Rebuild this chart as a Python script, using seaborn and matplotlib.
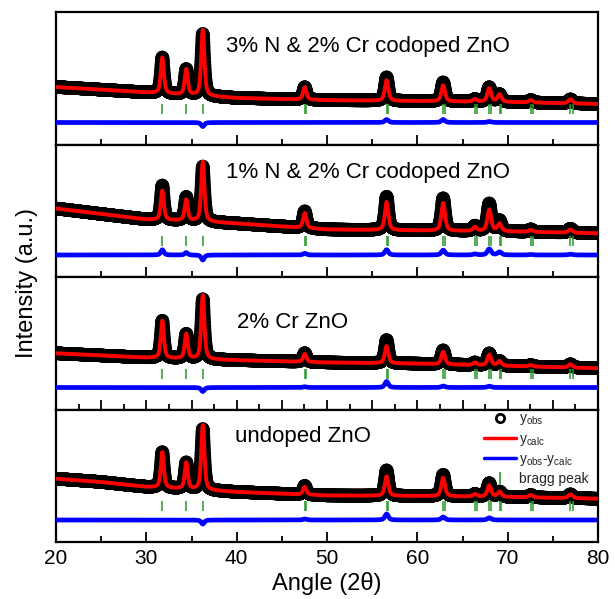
import numpy as np
import pandas as pd
import matplotlib
matplotlib.use("Agg")
import matplotlib.pyplot as plt
import seaborn as sns
from matplotlib.lines import Line2D
from matplotlib.ticker import MultipleLocator

sns.set_theme(style="white")
plt.rcParams['font.family'] = ['Liberation Sans', 'DejaVu Sans']
plt.rcParams['mathtext.fontset'] = 'custom'
plt.rcParams['mathtext.rm'] = 'Liberation Sans'
plt.rcParams['mathtext.it'] = 'Liberation Sans:italic'

# ---------------- data ----------------
panel_labels = ["3% N & 2% Cr codoped ZnO", "1% N & 2% Cr codoped ZnO",
                "2% Cr ZnO", "undoped ZnO"]
peak_pos = [31.77, 34.42, 36.25, 47.54, 56.60, 62.86, 66.38, 67.96, 69.10, 72.56, 76.95]
peak_fwhm = [0.40, 0.40, 0.41, 0.44, 0.46, 0.48, 0.50, 0.50, 0.51, 0.53, 0.56]
ka2_pos = [47.66, 56.75, 63.03, 66.56, 68.14, 69.29, 72.77, 77.18]

bg_angles = [20, 25, 30, 35, 40, 50, 60, 70, 80]
bg_n3cr2 = [57.5, 54.8, 52.0, 49.2, 46.5, 44.3, 43.4, 42.4, 40.5]
bg_n1cr2 = [68.5, 63.0, 57.5, 56.0, 53.5, 47.5, 46.5, 45.5, 43.7]
bg_cr2 = [56.2, 54.0, 51.8, 50.5, 49.3, 47.0, 45.8, 43.5, 41.2]
bg_undoped = [63.3, 60.0, 55.0, 52.5, 50.0, 46.5, 46.0, 45.0, 43.3]

calc_n3cr2 = [36.0, 25.5, 66.0, 12.5, 20.5, 16.0, 2.5, 13.5, 7.5, 2.5, 4.0]
calc_n1cr2 = [29.3, 21.0, 60.0, 15.0, 28.2, 27.7, 4.0, 21.5, 7.5, 2.0, 3.2]
calc_cr2 = [37.4, 24.6, 64.0, 8.0, 17.3, 12.5, 2.5, 10.7, 4.6, 1.5, 3.3]
calc_undoped = [35.7, 26.4, 65.0, 7.8, 19.5, 18.5, 2.5, 11.3, 5.0, 2.4, 3.8]

obs_n3cr2 = [36.0, 25.5, 62.0, 12.5, 23.5, 19.0, 2.5, 14.5, 7.5, 2.5, 4.0]
obs_n1cr2 = [34.5, 23.5, 55.0, 16.7, 33.5, 32.5, 5.0, 27.5, 10.5, 2.5, 4.0]
obs_cr2 = [37.4, 24.6, 60.0, 8.8, 23.3, 14.0, 2.5, 12.0, 4.6, 1.5, 3.3]
obs_undoped = [35.7, 26.4, 61.0, 8.8, 25.5, 21.5, 2.5, 13.5, 5.0, 2.4, 3.8]

backgrounds = [bg_n3cr2, bg_n1cr2, bg_cr2, bg_undoped]
calcs = [calc_n3cr2, calc_n1cr2, calc_cr2, calc_undoped]
obss = [obs_n3cr2, obs_n1cr2, obs_cr2, obs_undoped]

# ---------------- profile model ----------------
two_theta = np.arange(20.0, 80.0001, 0.02)
ETA = 0.6


def pattern(bg, heights):
    y = np.interp(two_theta, bg_angles, bg)
    for x0, w, h in zip(peak_pos, peak_fwhm, heights):
        d2 = 4.0 * (two_theta - x0) ** 2 / w ** 2
        y = y + h * ((1 - ETA) * np.exp(-np.log(2) * d2) + ETA / (1 + d2))
    return y


DIFF_OFFSET = 22.0
RED = "#ff0000"
BLUE = "#0000ff"
GREEN = "#2a9a2a"

fig = plt.figure(figsize=(6.15, 5.99), dpi=100)
gs = fig.add_gridspec(4, 1, left=56 / 615, right=598 / 615,
                      top=1 - 12 / 599, bottom=1 - 542 / 599, hspace=0)
axes = [fig.add_subplot(gs[i]) for i in range(4)]

text_pos = [(38.8, 92.8), (38.8, 98.7), (40.0, 81.8), (39.8, 100.0)]

for i, ax in enumerate(axes):
    yc = pattern(backgrounds[i], calcs[i])
    yo = pattern(backgrounds[i], obss[i])
    df = pd.DataFrame({"angle": two_theta, "obs": yo, "calc": yc,
                       "diff": yo - yc + DIFF_OFFSET})
    sns.scatterplot(data=df, x="angle", y="obs", ax=ax, marker="o", s=66,
                    color="black", linewidth=1.5, zorder=2, legend=False)
    coll = ax.collections[-1]
    coll.set_facecolor("none")
    coll.set_edgecolor("black")
    sns.lineplot(data=df, x="angle", y="calc", ax=ax, color=RED, lw=2.8,
                 zorder=3, estimator=None, sort=False)
    sns.lineplot(data=df, x="angle", y="diff", ax=ax, color=BLUE, lw=3.4,
                 zorder=3, estimator=None, sort=False)
    ax.vlines(peak_pos, 31, 41, color=GREEN, lw=1.1, zorder=4)
    ax.vlines(ka2_pos, 31, 41, color=GREEN, lw=1.1, zorder=4)

    ax.set_xlim(20, 80)
    ax.set_ylim(0, 132.5)
    ax.set_yticks([])
    ax.set_ylabel("")
    ax.set_xlabel("")
    if i == 2:
        ax.xaxis.set_major_locator(MultipleLocator(5))
        ax.xaxis.set_minor_locator(MultipleLocator(2.5))
    else:
        ax.xaxis.set_major_locator(MultipleLocator(10))
        ax.xaxis.set_minor_locator(MultipleLocator(5))
    ax.tick_params(axis="x", which="major", direction="in", length=7,
                   width=1.3, color="black", bottom=True, top=False,
                   labelsize=15, pad=5, labelcolor="black")
    ax.tick_params(axis="x", which="minor", direction="in", length=4,
                   width=1.3, color="black", bottom=True, top=False)
    for sp in ax.spines.values():
        sp.set_color("black")
        sp.set_linewidth(1.6)
    if i < 3:
        ax.tick_params(axis="x", labelbottom=False)
    tx, ty = text_pos[i]
    ax.text(tx, ty, panel_labels[i], fontsize=16, color="black",
            ha="left", va="baseline", zorder=5)

axes[3].set_xlabel("Angle (2θ)", fontsize=17, color="black", labelpad=3)
fig.text(27 / 615, 1 - 283 / 599, "Intensity (a.u.)", rotation=90,
         fontsize=17, ha="center", va="center", color="black")

handles = [
    Line2D([], [], ls="none", marker="o", ms=6, mfc="none", mec="black", mew=2),
    Line2D([], [], color=RED, lw=2.5),
    Line2D([], [], color=BLUE, lw=2.5),
    Line2D([], [], ls="none", marker="|", ms=9, mec=GREEN, mew=1.2),
]
labels = [r"y$_{\mathrm{obs}}$", r"y$_{\mathrm{calc}}$",
          r"y$_{\mathrm{obs}}$-y$_{\mathrm{calc}}$", "bragg peak"]
axes[3].legend(handles, labels, loc="upper left", bbox_to_anchor=(0.79, 0.985),
               frameon=False, fontsize=10, handlelength=2.3,
               handletextpad=0.2, labelspacing=0.3, borderpad=0,
               borderaxespad=0)

fig.savefig("out.png", dpi=100)
